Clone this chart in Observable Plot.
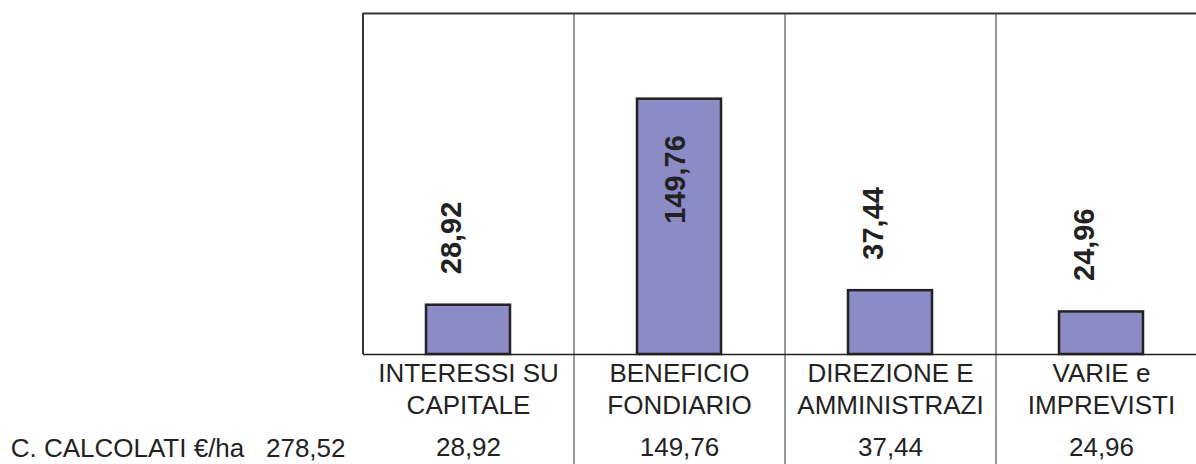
<!DOCTYPE html>
<html><head><meta charset="utf-8">
<script src="https://cdn.jsdelivr.net/npm/d3@7"></script>
<script src="https://cdn.jsdelivr.net/npm/@observablehq/plot@0.6"></script>
<style>body{margin:0;background:#fff;} svg{font-family:"Liberation Sans",Arial,sans-serif;}</style>
</head><body><div id="chart"></div>
<script>
const categories = ["INTERESSI SU\nCAPITALE", "BENEFICIO\nFONDIARIO", "DIREZIONE E\nAMMINISTRAZI", "VARIE e\nIMPREVISTI"];
const values = [28.92, 149.76, 37.44, 24.96];
const rowLabel = "C. CALCOLATI €/ha";
const total = 278.52;
const yMax = 200;

const fmt = v => v.toFixed(2).replace(".", ",");
const data = categories.map((c, i) => ({cat: c, value: values[i]}));
const xRange = [363, 1207];
const step = (xRange[1] - xRange[0]) / categories.length;

const chart = Plot.plot({
  width: 1196,
  height: 464,
  marginLeft: 363,
  marginRight: 0,
  marginTop: 13,
  marginBottom: 110,
  style: {fontFamily: '"Liberation Sans", Arial, sans-serif', background: "#fff"},
  x: {domain: categories, range: xRange, paddingInner: 0.6, paddingOuter: 0.3},
  y: {domain: [0, yMax], axis: null},
  marks: [
    Plot.ruleX(categories.slice(1), {x: d => d, dx: -step / 2, stroke: "#777", strokeWidth: 1.5, insetBottom: -110}),
    Plot.ruleX([categories[0]], {x: d => d, dx: -step / 2, stroke: "#333", strokeWidth: 2}),
    Plot.ruleY([yMax], {stroke: "#333", strokeWidth: 2}),
    Plot.barY(data, {x: "cat", y: "value", fill: "#8b8bc6", stroke: "#222", strokeWidth: 2.5}),
    Plot.ruleY([0], {stroke: "#222", strokeWidth: 1.5}),
    Plot.text(data.filter(d => d.value < 100), {x: "cat", y: "value", text: d => fmt(d.value), rotate: -90, textAnchor: "start", dy: -31, dx: -17, fontSize: 29, fontWeight: "bold", fill: "#222"}),
    Plot.text(data.filter(d => d.value >= 100), {x: "cat", y: "value", text: d => fmt(d.value), rotate: -90, textAnchor: "end", dy: 36, dx: -4, fontSize: 29, fontWeight: "bold", fill: "#222"}),
    Plot.axisX({tickSize: 0, tickPadding: 5, fontSize: 26, lineHeight: 1.23, color: "#222", label: null}),
    Plot.axisX({tickSize: 0, tickPadding: 83, fontSize: 26, color: "#222", label: null, tickFormat: c => fmt(values[categories.indexOf(c)])}),
    Plot.text([`${rowLabel}\u00a0\u00a0 ${fmt(total)}`], {frameAnchor: "bottom-left", textAnchor: "end", lineAnchor: "top", dx: -18, dy: 84, fontSize: 26, fill: "#222"})
  ]
});
document.getElementById("chart").appendChild(chart);
</script>
</body></html>
